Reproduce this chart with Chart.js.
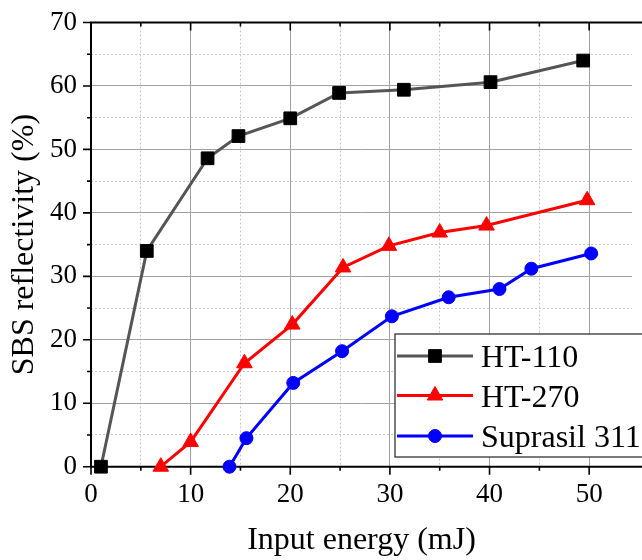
<!DOCTYPE html>
<html><head><meta charset="utf-8">
<style>
html,body{margin:0;padding:0;overflow:hidden;background:#fff;width:642px;height:560px}
#wrap{position:absolute;left:0;top:0;width:642px;height:560px}
</style>
<script src="https://cdn.jsdelivr.net/npm/chart.js@4.4.0/dist/chart.umd.min.js"></script>
</head><body><div id="wrap"><canvas id="c"></canvas></div>
<script>
const FONT = '"Liberation Serif", "Times New Roman", serif';

// Data
const seriesNames = ['HT-110', 'HT-270', 'Suprasil 311'];
const xHT110 = [1.0, 5.6, 11.7, 14.8, 20.0, 24.9, 31.4, 40.1, 49.4];
const yHT110 = [0, 34.0, 48.6, 52.1, 54.9, 58.9, 59.4, 60.6, 64.0];
const xHT270 = [7.0, 10.0, 15.4, 20.2, 25.3, 29.9, 35.0, 39.7, 49.8];
const yHT270 = [0, 3.9, 16.3, 22.4, 31.4, 34.8, 36.9, 38.0, 42.0];
const xSup = [13.9, 15.6, 20.3, 25.2, 30.2, 35.9, 41.0, 44.2, 50.2];
const ySup = [0, 4.5, 13.2, 18.2, 23.7, 26.7, 28.0, 31.2, 33.6];
const xTickLabels = [0, 10, 20, 30, 40, 50];
const yTickLabels = [0, 10, 20, 30, 40, 50, 60, 70];
const xTickValues = [0, 5, 10, 15, 20, 25, 30, 35, 40, 45, 50];
const yTickValues = [0, 5, 10, 15, 20, 25, 30, 35, 40, 45, 50, 55, 60, 65, 70];
const xMax = 54.3; // axis continues past the cropped right edge

const pts = (xs, ys) => xs.map((x, i) => ({x: x, y: ys[i]}));

const isMinor = ctx => ctx.tick && (Math.round(ctx.tick.value) % 10 !== 0);

const framePlugin = {
  id: 'frame',
  beforeDatasetsDraw(chart) {
    const {ctx, chartArea: a, scales: {x, y}} = chart;
    ctx.save();
    ctx.strokeStyle = '#000';
    ctx.lineWidth = 1.6;
    ctx.beginPath();
    yTickValues.forEach(v => {
      const py = y.getPixelForValue(v);
      const len = v % 10 === 0 ? 8 : 4;
      ctx.moveTo(a.left - len, py); ctx.lineTo(a.left, py);
    });
    xTickValues.forEach(v => {
      const px = x.getPixelForValue(v);
      const len = v % 10 === 0 ? 8 : 4;
      ctx.moveTo(px, a.bottom); ctx.lineTo(px, a.bottom + len);
      ctx.moveTo(px, a.top); ctx.lineTo(px, a.top + len);
    });
    ctx.stroke();
    ctx.lineWidth = 2;
    ctx.beginPath();
    ctx.moveTo(chart.width + 2, a.top); ctx.lineTo(a.left, a.top);
    ctx.lineTo(a.left, a.bottom); ctx.lineTo(chart.width + 2, a.bottom);
    ctx.stroke();
    ctx.restore();
  }
};

const legendPlugin = {
  id: 'insideLegend',
  afterDraw(chart) {
    const ctx = chart.ctx;
    ctx.save();
    const lx = 395, ly = 334, lw = 280, lh = 123;
    ctx.fillStyle = '#fff';
    ctx.fillRect(lx, ly, lw, lh);
    ctx.strokeStyle = '#333';
    ctx.lineWidth = 1.3;
    ctx.strokeRect(lx, ly, lw, lh);
    const rows = [356, 395.5, 436];
    chart.data.datasets.forEach((ds, i) => {
      const yy = rows[i];
      ctx.strokeStyle = ds.borderColor;
      ctx.lineWidth = ds.borderWidth;
      ctx.beginPath(); ctx.moveTo(397, yy); ctx.lineTo(473, yy); ctx.stroke();
      ctx.fillStyle = ds.pointBackgroundColor;
      ctx.strokeStyle = ds.pointBorderColor;
      ctx.lineWidth = 1;
      Chart.helpers.drawPoint(ctx, {pointStyle: ds.pointStyle, radius: ds.pointRadius, rotation: 0, borderWidth: 1}, 435, yy);
      ctx.fillStyle = '#000';
      ctx.font = '32px ' + FONT;
      ctx.textBaseline = 'alphabetic';
      ctx.textAlign = 'left';
      ctx.fillText(ds.label, 481, yy + 11);
    });
    ctx.restore();
  }
};

const chart = new Chart(document.getElementById('c'), {
  type: 'line',
  data: {
    datasets: [
      {label: seriesNames[0], data: pts(xHT110, yHT110), borderColor: '#555555', borderWidth: 3,
       pointStyle: 'rect', pointRadius: 9, pointBackgroundColor: '#000', pointBorderColor: '#000', pointBorderWidth: 1, clip: false},
      {label: seriesNames[1], data: pts(xHT270, yHT270), borderColor: '#ff0000', borderWidth: 3,
       pointStyle: 'triangle', pointRadius: 9, pointBackgroundColor: '#ff0000', pointBorderColor: '#ff0000', pointBorderWidth: 1, clip: false},
      {label: seriesNames[2], data: pts(xSup, ySup), borderColor: '#0000ff', borderWidth: 3,
       pointStyle: 'circle', pointRadius: 6.5, pointBackgroundColor: '#0000ff', pointBorderColor: '#0000ff', pointBorderWidth: 1, clip: false}
    ]
  },
  options: {
    responsive: true,
    maintainAspectRatio: false,
    animation: false,
    devicePixelRatio: 1,
    layout: {padding: {top: 22.5, right: 0, left: 0, bottom: 0}},
    elements: {line: {tension: 0}},
    plugins: {legend: {display: false}, tooltip: {enabled: false}},
    scales: {
      x: {
        type: 'linear', min: 0, max: xMax,
        afterBuildTicks(s) { s.ticks = xTickValues.map(v => ({value: v})); },
        afterFit(s) { s.height = 93.3; s.paddingLeft = 0; s.paddingRight = 0; },
        ticks: {autoSkip: false, maxRotation: 0, padding: 12, color: '#000',
          font: {family: FONT, size: 27},
          callback: v => xTickLabels.includes(v) ? String(v) : ''},
        grid: {drawTicks: false, lineWidth: 1, color: ctx => isMinor(ctx) ? '#c8c8c8' : '#a0a0a0'},
        border: {display: false, dash: ctx => isMinor(ctx) ? [2, 2] : []},
        title: {display: true, text: 'Input energy (mJ)', color: '#000', font: {family: FONT, size: 32}, padding: {top: 0, bottom: 0}}
      },
      y: {
        type: 'linear', min: 0, max: 70,
        afterBuildTicks(s) { s.ticks = yTickValues.map(v => ({value: v})); },
        afterFit(s) { s.width = 91; s.paddingTop = 0; s.paddingBottom = 0; },
        ticks: {autoSkip: false, padding: 14, color: '#000',
          font: {family: FONT, size: 27},
          callback: v => yTickLabels.includes(v) ? String(v) : ''},
        grid: {drawTicks: false, lineWidth: 1, color: ctx => isMinor(ctx) ? '#c8c8c8' : '#a0a0a0'},
        border: {display: false, dash: ctx => isMinor(ctx) ? [2, 2] : []},
        title: {display: true, text: 'SBS reflectivity (%)', color: '#000', font: {family: FONT, size: 32}, padding: {top: 5, bottom: 0}}
      }
    }
  },
  plugins: [framePlugin, legendPlugin]
});

// make the plot area reach the (cropped) right edge of the canvas
const gap = chart.width - chart.chartArea.right;
if (Math.abs(gap) > 0.5) {
  chart.options.layout.padding.right = -gap;
  chart.update();
}
</script></body></html>
